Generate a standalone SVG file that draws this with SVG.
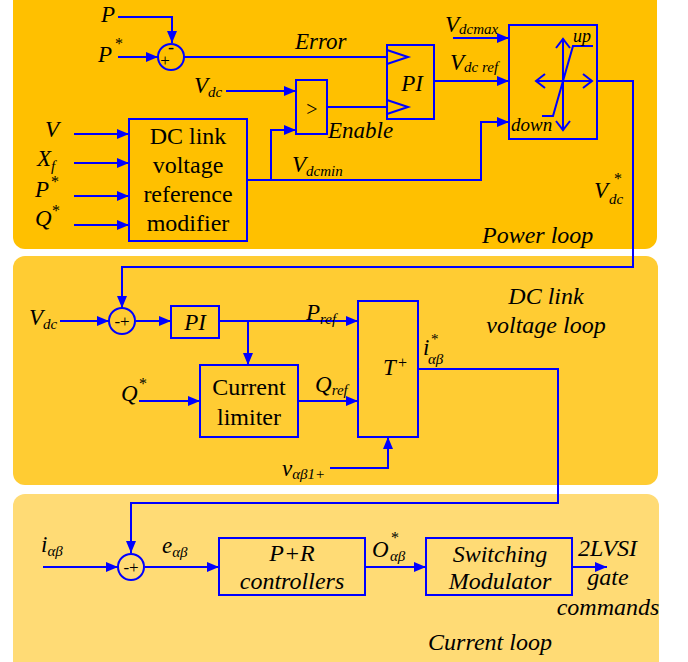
<svg xmlns="http://www.w3.org/2000/svg" width="688" height="662" viewBox="0 0 688 662" font-family="'Liberation Serif', 'DejaVu Serif', serif">
<defs>
<style>
.ln{fill:none;stroke:#0000FF;stroke-width:2}
text{font-family:'Liberation Serif','DejaVu Serif',serif;fill:#000}
.i{font-style:italic}
.b{font-size:23px}
.s{font-size:15px}
.m{font-size:24px}
</style>
<marker id="ah" viewBox="0 0 12 10" refX="12" refY="5" markerWidth="12" markerHeight="10" orient="auto" markerUnits="userSpaceOnUse"><path d="M0,0 L12,5 L0,10 z" fill="#0000FF"/></marker>
</defs>
<g id="panels">
<rect x="13" y="-12" width="644" height="261" rx="12" fill="#FFC000"/>
<rect x="13" y="256" width="645" height="229" rx="12" fill="#FFCC33"/>
<rect x="13" y="494" width="646" height="180" rx="12" fill="#FFDB75"/>
</g>
<g id="connectors">
<polyline class="ln" points="118,17 172,17 172,43" marker-end="url(#ah)"/>
<line class="ln" x1="118" y1="57" x2="158" y2="57" marker-end="url(#ah)"/>
<line class="ln" x1="184" y1="57" x2="387" y2="57"/>
<line class="ln" x1="226" y1="91" x2="296" y2="91" marker-end="url(#ah)"/>
<line class="ln" x1="327" y1="107" x2="387" y2="107"/>
<polyline class="ln" points="247,180 481,180 481,122 509,122" marker-end="url(#ah)"/>
<polyline class="ln" points="271,180 271,130 296,130" marker-end="url(#ah)"/>
<line class="ln" x1="453" y1="38" x2="509" y2="38" marker-end="url(#ah)"/>
<line class="ln" x1="434" y1="81" x2="509" y2="81" marker-end="url(#ah)"/>
<line class="ln" x1="74" y1="134" x2="129" y2="134" marker-end="url(#ah)"/>
<line class="ln" x1="74" y1="163" x2="129" y2="163" marker-end="url(#ah)"/>
<line class="ln" x1="74" y1="196" x2="129" y2="196" marker-end="url(#ah)"/>
<line class="ln" x1="74" y1="225" x2="129" y2="225" marker-end="url(#ah)"/>
<polyline class="ln" points="597,81 633,81 633,267 122,267 122,308" marker-end="url(#ah)"/>
<line class="ln" x1="60" y1="321" x2="109" y2="321" marker-end="url(#ah)"/>
<line class="ln" x1="136" y1="321" x2="171" y2="321" marker-end="url(#ah)"/>
<line class="ln" x1="219" y1="321" x2="358" y2="321" marker-end="url(#ah)"/>
<line class="ln" x1="248" y1="321" x2="248" y2="365" marker-end="url(#ah)"/>
<line class="ln" x1="139" y1="401" x2="200" y2="401" marker-end="url(#ah)"/>
<line class="ln" x1="298" y1="401" x2="358" y2="401" marker-end="url(#ah)"/>
<polyline class="ln" points="330,468 388,468 388,437" marker-end="url(#ah)"/>
<polyline class="ln" points="418,369 558,369 558,503 131,503 131,553" marker-end="url(#ah)"/>
<line class="ln" x1="43" y1="567" x2="118" y2="567" marker-end="url(#ah)"/>
<line class="ln" x1="145" y1="567" x2="219" y2="567" marker-end="url(#ah)"/>
<line class="ln" x1="365" y1="567" x2="426" y2="567" marker-end="url(#ah)"/>
<line class="ln" x1="572" y1="567" x2="607" y2="567" marker-end="url(#ah)"/>
</g>
<g id="sum1">
<circle class="ln" cx="171" cy="57" r="13"/>
<text x="171" y="53" font-size="18" text-anchor="middle">-</text>
<text x="165" y="66" font-size="17" text-anchor="middle">+</text>
</g>
<g id="pi1">
<rect class="ln" x="387" y="45" width="47" height="74"/>
<polyline class="ln" points="387,50 408,57 387,64"/>
<polyline class="ln" points="387,100 408,107 387,114"/>
<text class="i b" x="412" y="91" text-anchor="middle">PI</text>
</g>
<g id="comparator">
<rect class="ln" x="296" y="80" width="31" height="54"/>
<text x="312" y="116" font-size="20" text-anchor="middle">&gt;</text>
</g>
<g id="dclinkmod">
<rect class="ln" x="129" y="119" width="118" height="122"/>
<text class="m" x="188" y="144" text-anchor="middle">DC link</text>
<text class="m" x="188" y="173" text-anchor="middle">voltage</text>
<text class="m" x="188" y="202" text-anchor="middle">reference</text>
<text class="m" x="188" y="231" text-anchor="middle">modifier</text>
</g>
<g id="limiter">
<rect class="ln" x="509" y="25" width="88" height="114"/>
<line class="ln" x1="536" y1="81" x2="592" y2="81"/>
<polyline class="ln" points="545,74 536,81 545,88"/>
<polyline class="ln" points="583,74 592,81 583,88"/>
<line class="ln" x1="563" y1="39" x2="563" y2="130"/>
<polyline class="ln" points="556,48 563,39 570,48"/>
<polyline class="ln" points="556,121 563,130 570,121"/>
<polyline class="ln" points="542,116 553,116 573,46 593,46"/>
<text class="i" x="573" y="42" font-size="18">up</text>
<text class="i" x="511" y="131" font-size="19">down</text>
</g>
<g id="labels-top">
<text class="i b" x="101" y="22">P</text>
<text class="i b" x="98" y="62">P</text><text x="115" y="49" font-size="16">*</text>
<text class="i b" x="295" y="49">Error</text>
<text class="i b" x="194" y="93">V<tspan class="s" dy="4">dc</tspan></text>
<text class="i b" x="328" y="138">Enable</text>
<text class="i b" x="292" y="172">V<tspan class="s" dy="4">dcmin</tspan></text>
<text class="i b" x="445" y="32">V<tspan class="s" dy="2">dcmax</tspan></text>
<text class="i b" x="450" y="70">V<tspan class="s" dy="2">dc ref</tspan></text>
<text class="i b" x="45" y="137">V</text>
<text class="i b" x="37" y="166">X<tspan class="s" dy="5">f</tspan></text>
<text class="i b" x="35" y="197">P</text><text x="51" y="187" font-size="16">*</text>
<text class="i b" x="35" y="226">Q</text><text x="52" y="216" font-size="16">*</text>
<text class="i b" x="594" y="198">V</text><text x="614" y="184" font-size="16">*</text><text class="i s" x="609" y="204">dc</text>
<text class="i m" x="482" y="243">Power loop</text>
</g>
<g id="sum2">
<circle class="ln" cx="122" cy="321" r="13"/>
<text x="122" y="327" font-size="17" text-anchor="middle">-+</text>
</g>
<g id="pi2">
<rect class="ln" x="171" y="306" width="48" height="32"/>
<text class="i b" x="195" y="330" text-anchor="middle">PI</text>
</g>
<g id="currentlimiter">
<rect class="ln" x="200" y="365" width="98" height="72"/>
<text class="m" x="249" y="395" text-anchor="middle">Current</text>
<text class="m" x="249" y="425" text-anchor="middle">limiter</text>
</g>
<g id="tplus">
<rect class="ln" x="358" y="301" width="60" height="136"/>
<text class="i b" x="383" y="375">T</text><text x="398" y="368" font-size="16">+</text>
</g>
<g id="labels-mid">
<text class="i b" x="29" y="325">V<tspan class="s" dy="4">dc</tspan></text>
<text class="i b" x="306" y="320">P<tspan class="s" dy="4">ref</tspan></text>
<text class="i b" x="121" y="401">Q</text><text x="139" y="389" font-size="16">*</text>
<text class="i b" x="315" y="392">Q<tspan class="s" dy="3">ref</tspan></text>
<text class="i b" x="423" y="355">i</text><text x="431" y="344" font-size="15">*</text><text class="i s" x="428" y="364">αβ</text>
<text class="i b" x="282" y="476">v<tspan class="s" dy="3">αβ1+</tspan></text>
<text class="i m" x="546" y="304" text-anchor="middle">DC link</text>
<text class="i m" x="546" y="333" text-anchor="middle">voltage loop</text>
</g>
<g id="sum3">
<circle class="ln" cx="131" cy="567" r="13"/>
<text x="131" y="573" font-size="17" text-anchor="middle">-+</text>
</g>
<g id="prcontrollers">
<rect class="ln" x="219" y="538" width="146" height="57"/>
<text class="i m" x="292" y="561" text-anchor="middle">P+R</text>
<text class="i m" x="292" y="589" text-anchor="middle">controllers</text>
</g>
<g id="modulator">
<rect class="ln" x="426" y="538" width="146" height="57"/>
<text class="i m" x="500" y="562" text-anchor="middle">Switching</text>
<text class="i m" x="500" y="589" text-anchor="middle">Modulator</text>
</g>
<g id="labels-bot">
<text class="i b" x="41" y="552">i<tspan class="s" dy="4">αβ</tspan></text>
<text class="i b" x="162" y="553">e<tspan class="s" dy="4">αβ</tspan></text>
<text class="i b" x="372" y="557">O</text><text x="391" y="543" font-size="16">*</text><text class="i s" x="390" y="561">αβ</text>
<text class="i m" x="578" y="556">2LVSI</text>
<text class="i m" x="608" y="585" text-anchor="middle">gate</text>
<text class="i m" x="608" y="615" text-anchor="middle">commands</text>
<text class="i m" x="490" y="650" text-anchor="middle">Current loop</text>
</g>
</svg>
